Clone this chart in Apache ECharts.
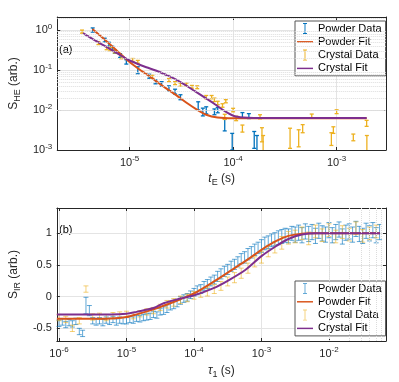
<!DOCTYPE html>
<html>
<head>
<meta charset="utf-8">
<script src="https://cdn.jsdelivr.net/npm/echarts@6/dist/echarts.min.js"></script>
<style>
  html, body { margin: 0; padding: 0; background: #fff; }
  #chart { width: 399px; height: 382px; }
</style>
</head>
<body>
<div id="chart"></div>
<script>
// ---------- (a) S_HE vs t_E ----------
const heTimePowder = [4.4e-6, 5.75e-6, 6.3e-6, 6.8e-6, 7.2e-6, 8.1e-6, 9.3e-6, 1.2e-5, 1.55e-5, 1.78e-5, 2.04e-5, 2.4e-5, 2.75e-5, 3.1e-5, 4.6e-5, 5.1e-5, 5.5e-5, 6.6e-5, 7.1e-5, 8.3e-5, 9.8e-5, 1.23e-4, 1.42e-4, 1.6e-4, 1.7e-4];
const heSigPowder = [1.0, 0.56, 0.44, 0.35, 0.29, 0.23, 0.16, 0.10, 0.07, 0.051, 0.045, 0.035, 0.029, 0.021, 0.013, 0.0091, 0.010, 0.0091, 0.0100, 0.0045, 0.0018, 0.0074, 0.0071, 0.0020, 0.0012];
const heErrPowder = [0.12, 0.06, 0.05, 0.04, 0.03, 0.025, 0.02, 0.02, 0.008, 0.006, 0.006, 0.005, 0.004, 0.003, 0.003, 0.002, 0.002, 0.0015, 0.0015, 0.0015, 0.0008, 0.0012, 0.001, 0.0009, 0.0011];

const heTimeCrystal = [3.47e-6, 5.0e-6, 6.0e-6, 6.5e-6, 7.2e-6, 8.3e-6, 1.07e-5, 1.2e-5, 1.66e-5, 2.4e-5, 2.75e-5, 3.1e-5, 3.55e-5, 4.0e-5, 4.5e-5, 5.5e-5, 6.2e-5, 6.6e-5, 7.1e-5, 7.9e-5, 8.3e-5, 8.5e-5, 1.0e-4, 1.07e-4, 1.23e-4, 1.82e-4, 1.9e-4, 1.95e-4, 3.55e-4, 4.3e-4, 4.7e-4, 5.75e-4, 8.9e-4, 9.3e-4, 1.0e-3, 1.45e-3, 1.95e-3, 1.96e-3];
const heSigCrystal = [0.91, 0.47, 0.35, 0.33, 0.29, 0.21, 0.178, 0.16, 0.068, 0.056, 0.047, 0.043, 0.043, 0.038, 0.037, 0.021, 0.021, 0.018, 0.015, 0.013, 0.0068, 0.0166, 0.010, 0.0062, 0.0035, 0.0068, 0.0026, 0.0012, 0.0023, 0.0022, 0.0035, 0.0071, 0.0020, 0.0032, 0.0091, 0.0021, 0.0047, 0.0011];
const heErrCrystal = [0.08, 0.04, 0.03, 0.03, 0.025, 0.02, 0.015, 0.013, 0.006, 0.005, 0.004, 0.004, 0.004, 0.003, 0.003, 0.002, 0.002, 0.0018, 0.0015, 0.0013, 0.001, 0.0015, 0.001, 0.0008, 0.0007, 0.0008, 0.001, 0.0011, 0.0012, 0.001, 0.0008, 0.0008, 0.0007, 0.0006, 0.001, 0.0004, 0.0008, 0.0012];

const heFitTimePowder = [4.37e-6, 5.62e-6, 7.41e-6, 9.33e-6, 1.2e-5, 1.58e-5, 2.09e-5, 2.82e-5, 3.55e-5, 4.47e-5, 5.5e-5, 7.08e-5, 1.0e-4, 1.95e-3];
const heFitPowder = [1.05, 0.60, 0.316, 0.182, 0.110, 0.0676, 0.0398, 0.0234, 0.0151, 0.0102, 0.00759, 0.00646, 0.00617, 0.00617];
const heFitTimeCrystal = [3.55e-6, 4.68e-6, 6.03e-6, 7.76e-6, 9.77e-6, 1.2e-5, 1.45e-5, 1.82e-5, 2.24e-5, 2.82e-5, 3.47e-5, 4.27e-5, 5.25e-5, 6.61e-5, 8.32e-5, 1.02e-4, 1.26e-4, 1.58e-4, 1.95e-3];
const heFitCrystal = [0.83, 0.537, 0.372, 0.251, 0.178, 0.141, 0.117, 0.0955, 0.0759, 0.0575, 0.0417, 0.0295, 0.0209, 0.0141, 0.00933, 0.00708, 0.00646, 0.00631, 0.00631];

// ---------- (b) S_IR vs tau_1 ----------
const irTauPowder = [
  1.00e-6, 1.12e-6, 1.26e-6, 1.41e-6, 1.58e-6, 1.78e-6, 2.00e-6, 2.24e-6, 2.51e-6, 2.82e-6, 3.16e-6, 3.55e-6, 3.98e-6, 4.47e-6, 5.01e-6, 5.62e-6, 6.31e-6, 7.08e-6, 7.94e-6, 8.91e-6,
  1.00e-5, 1.12e-5, 1.26e-5, 1.41e-5, 1.58e-5, 1.78e-5, 2.00e-5, 2.24e-5, 2.51e-5, 2.82e-5, 3.16e-5, 3.55e-5, 3.98e-5, 4.47e-5, 5.01e-5, 5.62e-5, 6.31e-5, 7.08e-5, 7.94e-5, 8.91e-5,
  1.00e-4, 1.12e-4, 1.26e-4, 1.41e-4, 1.58e-4, 1.78e-4, 2.00e-4, 2.24e-4, 2.51e-4, 2.82e-4, 3.16e-4, 3.55e-4, 3.98e-4, 4.47e-4, 5.01e-4, 5.62e-4, 6.31e-4, 7.08e-4, 7.94e-4, 8.91e-4,
  1.00e-3, 1.12e-3, 1.26e-3, 1.41e-3, 1.58e-3, 1.78e-3, 2.00e-3, 2.24e-3, 2.51e-3, 2.82e-3, 3.16e-3, 3.55e-3, 3.98e-3, 4.47e-3, 5.01e-3, 5.62e-3, 6.31e-3, 7.08e-3, 7.94e-3, 8.91e-3,
  1.00e-2, 1.12e-2, 1.26e-2, 1.41e-2, 1.58e-2, 1.78e-2, 2.00e-2, 2.24e-2, 2.51e-2, 2.82e-2, 3.16e-2, 3.55e-2, 3.98e-2, 4.47e-2, 5.01e-2, 5.62e-2
];
const irSigPowder = [
  -0.42, -0.40, -0.44, -0.41, -0.43, -0.39, -0.55, -0.58, -0.14, -0.22, -0.38, -0.40, -0.38, -0.41, -0.37, -0.39, -0.36, -0.40, -0.37, -0.38,
  -0.38, -0.36, -0.37, -0.34, -0.35, -0.33, -0.32, -0.31, -0.28, -0.29, -0.24, -0.22, -0.19, -0.15, -0.13, -0.10, -0.06, -0.03, -0.01, 0.03,
  0.07, 0.10, 0.12, 0.17, 0.20, 0.24, 0.27, 0.32, 0.36, 0.40, 0.43, 0.48, 0.51, 0.55, 0.60, 0.62, 0.67, 0.70, 0.74, 0.77,
  0.80, 0.84, 0.86, 0.89, 0.91, 0.93, 0.95, 0.97, 0.96, 1.00, 0.98, 1.01, 0.97, 1.03, 0.99, 1.02, 0.96, 1.04, 1.00, 0.98,
  1.05, 0.97, 1.02, 1.06, 0.95, 1.01, 1.03, 0.98, 1.07, 0.99, 0.96, 1.04, 1.00, 1.05, 0.97, 1.02
];
const irErrPowder = [
  0.05, 0.05, 0.05, 0.05, 0.05, 0.05, 0.05, 0.05, 0.13, 0.08, 0.05, 0.05, 0.05, 0.05, 0.05, 0.05, 0.05, 0.05, 0.05, 0.05,
  0.05, 0.05, 0.05, 0.05, 0.05, 0.05, 0.05, 0.05, 0.05, 0.05, 0.05, 0.06, 0.06, 0.06, 0.06, 0.06, 0.06, 0.06, 0.06, 0.06,
  0.06, 0.07, 0.07, 0.07, 0.07, 0.07, 0.07, 0.08, 0.08, 0.08, 0.08, 0.08, 0.08, 0.08, 0.08, 0.09, 0.09, 0.09, 0.09, 0.09,
  0.10, 0.10, 0.10, 0.10, 0.10, 0.11, 0.11, 0.11, 0.11, 0.11, 0.12, 0.12, 0.12, 0.12, 0.12, 0.12, 0.12, 0.12, 0.12, 0.12,
  0.12, 0.12, 0.12, 0.12, 0.12, 0.12, 0.12, 0.12, 0.12, 0.12, 0.12, 0.12, 0.12, 0.12, 0.12, 0.12
];

const irTauCrystal = [
  1.00e-6, 1.26e-6, 1.58e-6, 2.00e-6, 2.51e-6, 3.16e-6, 3.98e-6, 5.01e-6, 6.31e-6, 7.94e-6,
  1.00e-5, 1.26e-5, 1.58e-5, 2.00e-5, 2.51e-5, 3.16e-5, 3.98e-5, 5.01e-5, 6.31e-5, 7.94e-5,
  1.00e-4, 1.26e-4, 1.58e-4, 2.00e-4, 2.51e-4, 3.16e-4, 3.98e-4, 5.01e-4, 6.31e-4, 7.94e-4,
  1.00e-3, 1.26e-3, 1.58e-3, 2.00e-3, 2.51e-3, 3.16e-3, 3.98e-3, 5.01e-3, 6.31e-3, 7.94e-3,
  1.00e-2, 1.26e-2, 1.58e-2, 2.00e-2, 2.51e-2, 3.16e-2, 3.98e-2, 5.01e-2
];
const irSigCrystal = [
  -0.33, -0.36, -0.50, -0.38, 0.12, -0.32, -0.31, -0.33, -0.30, -0.29,
  -0.28, -0.30, -0.27, -0.24, -0.22, -0.17, -0.12, -0.09, -0.05, -0.02,
  0.02, 0.05, 0.08, 0.12, 0.17, 0.24, 0.30, 0.37, 0.45, 0.55,
  0.62, 0.72, 0.78, 0.85, 0.93, 0.95, 1.00, 0.92, 1.03, 0.97,
  1.05, 0.95, 1.02, 0.98, 1.08, 0.96, 1.00, 1.03
];
const irErrCrystal = [
  0.05, 0.05, 0.05, 0.05, 0.05, 0.05, 0.05, 0.05, 0.05, 0.05,
  0.05, 0.05, 0.05, 0.05, 0.05, 0.05, 0.06, 0.06, 0.06, 0.06,
  0.06, 0.06, 0.07, 0.07, 0.07, 0.07, 0.08, 0.08, 0.08, 0.08,
  0.09, 0.09, 0.09, 0.10, 0.10, 0.10, 0.10, 0.10, 0.10, 0.10,
  0.10, 0.10, 0.10, 0.10, 0.10, 0.10, 0.10, 0.10
];

const irFitTau = [9.3e-7, 3.16e-6, 5.75e-6, 1.0e-5, 1.41e-5, 2.51e-5, 3.63e-5, 6.31e-5, 1.0e-4, 1.91e-4, 3.16e-4, 5.75e-4, 1.0e-3, 1.66e-3, 2.51e-3, 3.98e-3, 6.31e-3, 5.7e-2];
const irFitPowder = [-0.35, -0.35, -0.345, -0.32, -0.28, -0.20, -0.14, -0.04, 0.05, 0.23, 0.38, 0.56, 0.74, 0.88, 0.96, 0.995, 1.0, 1.0];
const irFitCrystal = [-0.28, -0.28, -0.28, -0.27, -0.24, -0.18, -0.10, -0.03, 0.02, 0.13, 0.25, 0.42, 0.64, 0.80, 0.91, 0.98, 1.0, 1.0];

const BLUE = "#0072BD";
const ORANGE = "#D95319";
const YELLOW = "#EDB120";
const PURPLE = "#7E2F8E";
const BLUE_LIGHT = "rgba(0,114,189,0.62)";
const YELLOW_LIGHT = "rgba(237,177,32,0.6)";
const FONT = "Liberation Sans";
const AXIS_COLOR = "#262626";
const ERRBAR_ICON = "path://M0,0H5V1.2H3.1V12.8H5V14H0V12.8H1.9V1.2H0Z";
const LINE_ICON = "path://M0,0H24V2.2H0Z";

const chart = echarts.init(document.getElementById("chart"), null, { renderer: "canvas" });

// 误差棒：竖线 + 上下短横
const errorBar = (color, capW, lw) => (params, api) => {
  const x = api.value(0);
  const pLo = api.coord([x, api.value(1)]);
  const pHi = api.coord([x, api.value(2)]);
  const h = capW / 2;
  const style = { stroke: color, lineWidth: lw };
  return {
    type: "group",
    children: [
      { type: "line", shape: { x1: pLo[0], y1: pLo[1], x2: pHi[0], y2: pHi[1] }, style },
      { type: "line", shape: { x1: pLo[0] - h, y1: pLo[1], x2: pLo[0] + h, y2: pLo[1] }, style },
      { type: "line", shape: { x1: pHi[0] - h, y1: pHi[1], x2: pHi[0] + h, y2: pHi[1] }, style },
    ],
  };
};

const toBars = (xs, ys, es, floor) => xs.map((x, i) => [x, floor == null ? ys[i] - es[i] : Math.max(ys[i] - es[i], floor), ys[i] + es[i]]);
const toLine = (xs, ys) => xs.map((x, i) => [x, ys[i]]);

// 对数轴次网格线位置 (2..9 × 10^n)
const minorPositions = (lo, hi) => {
  const out = [];
  for (let e = Math.floor(Math.log10(lo)); e <= Math.ceil(Math.log10(hi)); e++) {
    for (let m = 2; m <= 9; m++) {
      const v = m * Math.pow(10, e);
      if (v > lo && v < hi) out.push(v);
    }
  }
  return out;
};

const powLabel = (v) => {
  const e = Math.log10(v);
  const r = Math.round(e);
  if (Math.abs(e - r) > 1e-6) return "";
  return "10{s|" + r + "}";
};
const powRich = { s: { fontSize: 8, fontFamily: FONT, color: AXIS_COLOR, padding: [0, 0, 7, 0] } };

const A_X = [2e-6, 3e-3];
const A_Y = [1e-3, 2.1];
const B_X = [9.3e-7, 0.07];
const B_Y = [-0.7, 1.4];

const logAxis = (gridIndex, range, position, showLabel, extra) =>
  Object.assign(
    {
      type: "log",
      logBase: 10,
      gridIndex,
      position,
      min: range[0],
      max: range[1],
      axisLine: { show: true, onZero: false, lineStyle: { color: AXIS_COLOR, width: 1 } },
      axisTick: { show: true, inside: true, length: 3, lineStyle: { color: AXIS_COLOR } },
      axisLabel: showLabel
        ? { show: true, formatter: powLabel, rich: powRich, fontSize: 11, fontFamily: FONT, color: AXIS_COLOR, showMinLabel: true, showMaxLabel: true, margin: 5 }
        : { show: false },
      splitLine: { show: showLabel, lineStyle: { color: "#e4e4e4", width: 1 } },
    },
    extra || {}
  );

const valueAxis = (gridIndex, range, position, showLabel, extra) =>
  Object.assign(
    {
      type: "value",
      gridIndex,
      position,
      min: range[0],
      max: range[1],
      splitNumber: 5,
      axisLine: { show: true, onZero: false, lineStyle: { color: AXIS_COLOR, width: 1 } },
      axisTick: { show: true, inside: true, length: 3, lineStyle: { color: AXIS_COLOR } },
      axisLabel: showLabel
        ? { show: true, fontSize: 11, fontFamily: FONT, color: AXIS_COLOR, showMinLabel: false, showMaxLabel: false, margin: 5 }
        : { show: false },
      splitLine: { show: showLabel, lineStyle: { color: "#e4e4e4", width: 1 } },
    },
    extra || {}
  );

const nameRich = {
  i: { fontStyle: "italic", fontSize: 12, fontFamily: FONT, color: AXIS_COLOR },
  sub: { fontSize: 9, fontFamily: FONT, color: AXIS_COLOR, padding: [7, 0, 0, 0] },
};
const nameStyle = { fontSize: 12, fontFamily: FONT, color: AXIS_COLOR, rich: nameRich };

const minorGridSeries = (xAxisIndex, yAxisIndex, xs, ys) => ({
  type: "line",
  xAxisIndex,
  yAxisIndex,
  data: [],
  z: 1,
  silent: true,
  markLine: {
    silent: true,
    symbol: ["none", "none"],
    label: { show: false },
    animation: false,
    lineStyle: { color: "#dcdcdc", type: "dotted", width: 1 },
    emphasis: { disabled: true },
    data: xs.map((v) => ({ xAxis: v })).concat(ys.map((v) => ({ yAxis: v }))),
  },
});

const barSeries = (name, xAxisIndex, yAxisIndex, data, color, lw, capW) => ({
  name,
  type: "custom",
  xAxisIndex,
  yAxisIndex,
  clip: true,
  z: 3,
  itemStyle: { color },
  renderItem: errorBar(color, capW, lw),
  encode: { x: 0, y: [1, 2] },
  data,
});

const fitSeries = (name, xAxisIndex, yAxisIndex, data, color) => ({
  name,
  type: "line",
  xAxisIndex,
  yAxisIndex,
  symbol: "none",
  smooth: 0.3,
  clip: true,
  z: 4,
  lineStyle: { color, width: 2 },
  itemStyle: { color },
  data,
});

const legendBox = (top) => ({
  left: 295,
  top,
  orient: "vertical",
  selectedMode: false,
  backgroundColor: "#fff",
  borderColor: "#555",
  borderWidth: 1,
  borderRadius: 0,
  padding: [2, 4, 2, 2],
  itemGap: 2.3,
  itemWidth: 16,
  itemHeight: 11,
  textStyle: { fontSize: 11, fontFamily: FONT, color: "#000", lineHeight: 11 },
});

const legendItems = (suffix) => [
  { name: "Powder Data" + suffix, icon: ERRBAR_ICON },
  { name: "Powder Fit" + suffix, icon: LINE_ICON },
  { name: "Crystal Data" + suffix, icon: ERRBAR_ICON },
  { name: "Crystal Fit" + suffix, icon: LINE_ICON },
];

const option = {
  animation: false,
  backgroundColor: "#fff",
  grid: [
    { left: 49, top: 17, width: 337, height: 133 },
    { left: 50, top: 208, width: 336, height: 133 },
  ],
  xAxis: [
    logAxis(0, A_X, "bottom", true, {
      name: "{i|t}{sub|E} (s)",
      nameLocation: "middle",
      nameGap: 21,
      nameTextStyle: nameStyle,
    }),
    logAxis(0, A_X, "top", false),
    logAxis(1, B_X, "bottom", true, {
      name: "{i|τ}{sub|1} (s)",
      nameLocation: "middle",
      nameGap: 22,
      nameTextStyle: nameStyle,
    }),
    logAxis(1, B_X, "top", false),
  ],
  yAxis: [
    logAxis(0, A_Y, "left", true, {
      name: "S{sub|HE} (arb.)",
      nameLocation: "middle",
      nameGap: 30,
      nameTextStyle: nameStyle,
    }),
    logAxis(0, A_Y, "right", false),
    valueAxis(1, B_Y, "left", true, {
      name: "S{sub|IR} (arb.)",
      nameLocation: "middle",
      nameGap: 26,
      nameTextStyle: nameStyle,
    }),
    valueAxis(1, B_Y, "right", false),
  ],
  legend: [
    Object.assign(legendBox(21), { data: legendItems("") }),
    Object.assign(legendBox(281), {
      data: legendItems(" (b)"),
      formatter: (n) => n.replace(" (b)", ""),
    }),
  ],
  graphic: [
    { type: "text", left: 59, top: 44, style: { text: "(a)", fontSize: 11, fontFamily: FONT, fill: "#000" } },
    { type: "text", left: 59, top: 224, style: { text: "(b)", fontSize: 11, fontFamily: FONT, fill: "#000" } },
  ],
  series: [
    minorGridSeries(0, 0, minorPositions(A_X[0], A_X[1]), minorPositions(A_Y[0], A_Y[1])),
    minorGridSeries(2, 2, minorPositions(B_X[0], B_X[1]), []),

    barSeries("Powder Data", 0, 0, toBars(heTimePowder, heSigPowder, heErrPowder, 1e-5), BLUE, 1.3, 4),
    fitSeries("Powder Fit", 0, 0, toLine(heFitTimePowder, heFitPowder), ORANGE),
    barSeries("Crystal Data", 0, 0, toBars(heTimeCrystal, heSigCrystal, heErrCrystal, 1e-5), YELLOW, 1.3, 4),
    fitSeries("Crystal Fit", 0, 0, toLine(heFitTimeCrystal, heFitCrystal), PURPLE),

    barSeries("Powder Data (b)", 2, 2, toBars(irTauPowder, irSigPowder, irErrPowder), BLUE_LIGHT, 1, 5),
    fitSeries("Powder Fit (b)", 2, 2, toLine(irFitTau, irFitPowder), ORANGE),
    barSeries("Crystal Data (b)", 2, 2, toBars(irTauCrystal, irSigCrystal, irErrCrystal), YELLOW_LIGHT, 1, 5),
    fitSeries("Crystal Fit (b)", 2, 2, toLine(irFitTau, irFitCrystal), PURPLE),
  ],
};

chart.setOption(option);
</script>
</body>
</html>
